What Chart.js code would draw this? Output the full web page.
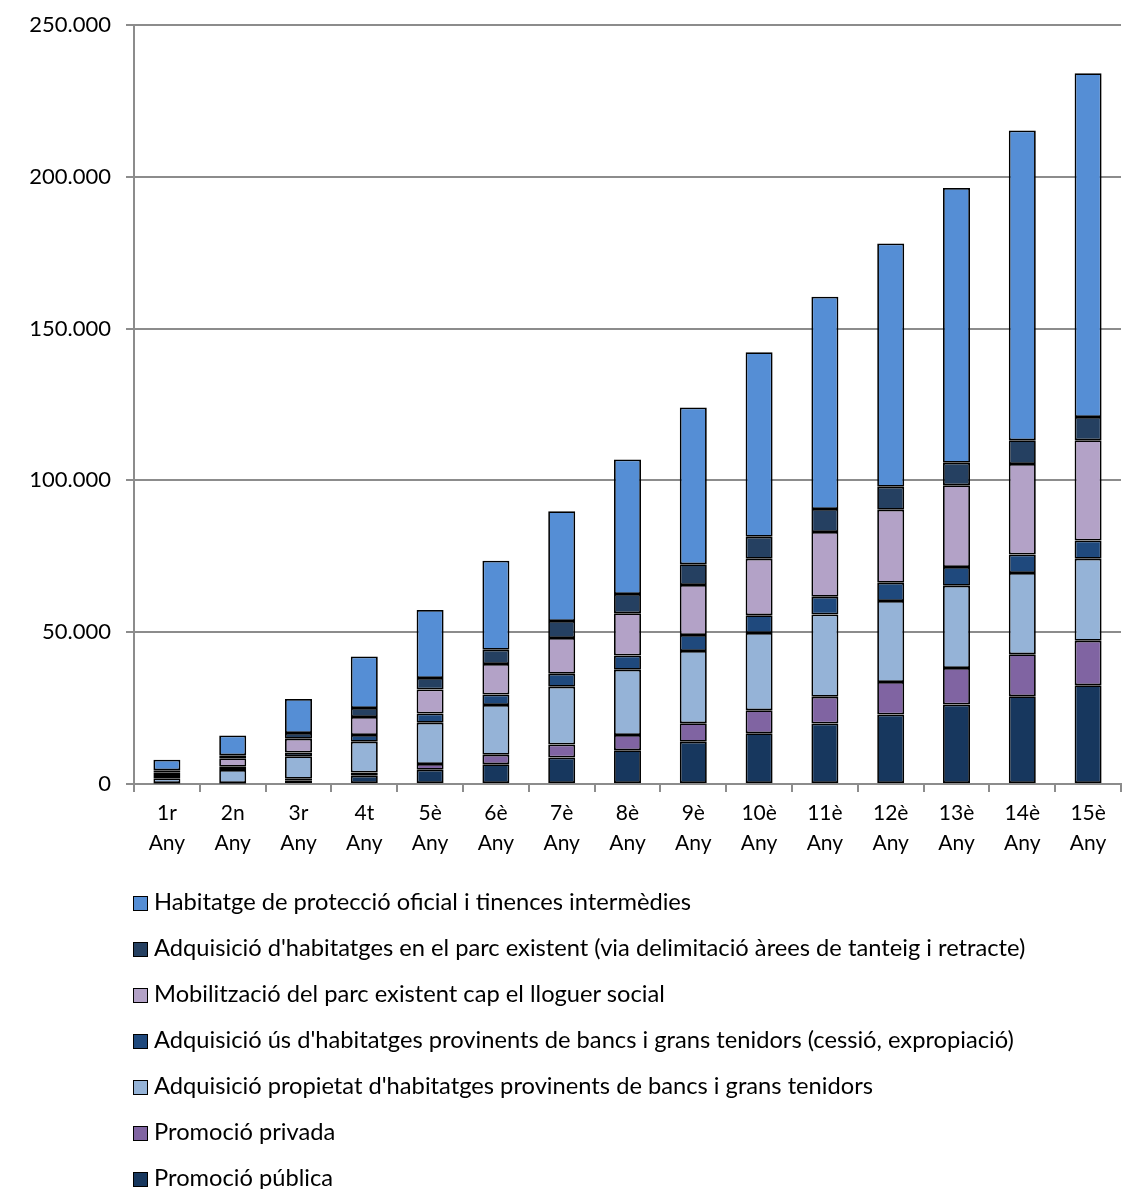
<!DOCTYPE html>
<html>
<head>
<meta charset="utf-8">
<script src="https://cdn.jsdelivr.net/npm/chart.js@4/dist/chart.umd.min.js"></script>
<style>
  body { margin: 0; background: #fff; font-family: Lato, sans-serif; }
  #wrap { position: relative; width: 1124px; height: 1189px; }
  #chartBox { position: absolute; left: 0; top: 0; width: 1124px; height: 880px; }
  #legend { position: absolute; left: 133px; top: 878px; }
  .item { display: flex; align-items: center; height: 46px; font-size: 23.7px; color: #000; white-space: nowrap; }
  .swatch { width: 13px; height: 13px; border: 1px solid #000; margin-right: 6px; margin-top: 5px; flex: none; }
</style>
</head>
<body>
<div id="wrap">
  <div id="chartBox"><canvas id="housingChart"></canvas></div>
  <div id="legend"></div>
</div>
<script>
// ---- data ----
const yearOrdinals = ['1r', '2n', '3r', '4t', '5è', '6è', '7è', '8è', '9è', '10è', '11è', '12è', '13è', '14è', '15è'];
const yearWord = 'Any';

const promocioPublica = [200, 200, 1200, 2700, 4700, 6500, 8700, 11100, 13900, 16700, 19900, 22900, 26200, 28900, 32500];
const promocioPrivada = [100, 100, 500, 1100, 1900, 3100, 4300, 5000, 6100, 7600, 8800, 10700, 12000, 13800, 14700];
const adqPropietat    = [1600, 4300, 7400, 10100, 13600, 16400, 19000, 21500, 23800, 25400, 27100, 26700, 27100, 26800, 27000];
const adqUs           = [700, 1100, 1300, 2200, 3000, 3500, 4300, 4700, 5300, 5900, 5900, 6000, 6200, 6100, 6000];
const mobilitzacio    = [1100, 2750, 4500, 6000, 7900, 10000, 11800, 13900, 16400, 18600, 21300, 24000, 26900, 29800, 33000];
const adqParcExistent = [800, 1000, 1900, 2900, 3800, 4700, 5600, 6400, 6900, 7200, 7600, 7600, 7400, 7800, 7700];
const habitatgeHPO    = [3500, 6550, 11200, 17000, 22400, 29300, 36100, 44300, 51600, 60800, 69900, 80100, 90500, 102000, 113200];

const yTicks = { min: 0, max: 250000, step: 50000 };

// bottom of the stack first
const series = [
  { label: 'Promoció pública', data: promocioPublica, color: '#17375E' },
  { label: 'Promoció privada', data: promocioPrivada, color: '#8064A2' },
  { label: "Adquisició propietat d'habitatges provinents de bancs i grans tenidors", data: adqPropietat, color: '#95B3D7' },
  { label: "Adquisició ús d'habitatges provinents de bancs i grans tenidors (cessió, expropiació)", data: adqUs, color: '#1F497D' },
  { label: 'Mobilització del parc existent cap el lloguer social', data: mobilitzacio, color: '#B3A2C7' },
  { label: "Adquisició d'habitatges en el parc existent (via delimitació àrees de tanteig i retracte)", data: adqParcExistent, color: '#254061' },
  { label: 'Habitatge de protecció oficial i tinences intermèdies', data: habitatgeHPO, color: '#558ED5' }
];

// 250000 -> "250.000"
function thousands(v) {
  return String(v).replace(/\B(?=(\d{3})+(?!\d))/g, '.');
}

const axisGray = '#8c8c8c';

const chart = new Chart(document.getElementById('housingChart'), {
  type: 'bar',
  data: {
    labels: yearOrdinals.map(o => [o, yearWord]),
    datasets: series.map(s => ({
      label: s.label,
      data: s.data,
      backgroundColor: s.color,
      borderColor: '#000',
      borderWidth: 1.75,
      borderSkipped: false,
      barPercentage: 0.41,
      categoryPercentage: 1
    }))
  },
  options: {
    responsive: true,
    maintainAspectRatio: false,
    animation: false,
    layout: { padding: { top: 23, right: 3, left: 0, bottom: 0 } },
    plugins: {
      legend: { display: false },
      tooltip: { enabled: false }
    },
    scales: {
      x: {
        stacked: true,
        grid: { offset: true, drawOnChartArea: false, color: axisGray, lineWidth: 2, tickLength: 8 },
        border: { color: axisGray, width: 2 },
        ticks: {
          color: '#000',
          padding: 6,
          maxRotation: 0,
          autoSkip: false,
          font: { family: 'Lato', size: 21, lineHeight: 1.43 }
        },
        afterFit(scale) { scale.height = 96; }
      },
      y: {
        stacked: true,
        min: yTicks.min,
        max: yTicks.max,
        grid: { color: axisGray, lineWidth: 2, tickLength: 8 },
        border: { color: axisGray, width: 2 },
        ticks: {
          stepSize: yTicks.step,
          color: '#000',
          padding: 15,
          font: { family: 'Lato', size: 22, lineHeight: 0.9 },
          callback: v => thousands(v)
        },
        afterFit(scale) { scale.width = 134; }
      }
    }
  }
});

// legend list, top series first
const legendEl = document.getElementById('legend');
chart.data.datasets.slice().reverse().forEach(ds => {
  const row = document.createElement('div');
  row.className = 'item';
  const sw = document.createElement('span');
  sw.className = 'swatch';
  sw.style.background = ds.backgroundColor;
  const txt = document.createElement('span');
  txt.textContent = ds.label;
  row.appendChild(sw);
  row.appendChild(txt);
  legendEl.appendChild(row);
});
</script>
</body>
</html>
